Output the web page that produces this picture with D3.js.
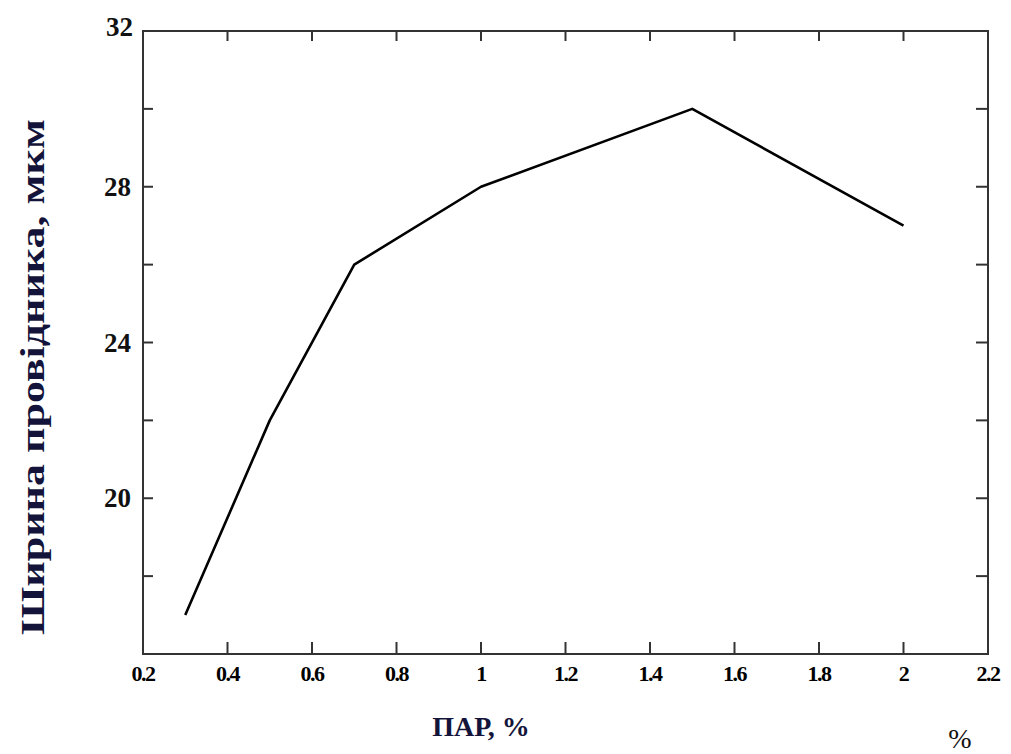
<!DOCTYPE html>
<html>
<head>
<meta charset="utf-8">
<script src="https://cdn.jsdelivr.net/npm/d3@7"></script>
<style>
  html, body { margin: 0; padding: 0; background: #fff; }
  svg { display: block; }
  text { font-family: "Liberation Serif", "Times New Roman", serif; }
</style>
</head>
<body>
<svg id="chart" width="1011" height="754"></svg>
<script>
// Data
const parValues = [0.3, 0.5, 0.7, 1.0, 1.5, 2.0];
const widthValues = [17, 22, 26, 28, 30, 27];
const xTickValues = [0.2, 0.4, 0.6, 0.8, 1.0, 1.2, 1.4, 1.6, 1.8, 2.0, 2.2];
const xTickLabels = ["0.2", "0.4", "0.6", "0.8", "1", "1.2", "1.4", "1.6", "1.8", "2", "2.2"];
const yTickValues = [16, 18, 20, 22, 24, 26, 28, 30, 32];
const yLabelValues = [20, 24, 28, 32];
const yAxisTitle = "Ширина провідника, мкм";
const xAxisTitle = "ПАР, %";
const cornerNote = "%";

const svg = d3.select("#chart");
const pLeft = 143, pRight = 988, pTop = 31, pBottom = 654;

const x = d3.scaleLinear().domain([0.2, 2.2]).range([pLeft, pRight]);
const y = d3.scaleLinear().domain([16, 32]).range([pBottom, pTop]);

const axisColor = "#333";

// frame
svg.append("rect")
  .attr("x", pLeft).attr("y", pTop)
  .attr("width", pRight - pLeft).attr("height", pBottom - pTop)
  .attr("fill", "none").attr("stroke", axisColor).attr("stroke-width", 2);

// inner ticks
const innerX = xTickValues.slice(1, -1);
const innerY = yTickValues.slice(1, -1);
const g = svg.append("g").attr("stroke", axisColor).attr("stroke-width", 2);
innerX.forEach(v => {
  g.append("line").attr("x1", x(v)).attr("x2", x(v)).attr("y1", pBottom).attr("y2", pBottom - 12);
  g.append("line").attr("x1", x(v)).attr("x2", x(v)).attr("y1", pTop).attr("y2", pTop + 10);
});
innerY.forEach(v => {
  g.append("line").attr("x1", pLeft).attr("x2", pLeft + 10).attr("y1", y(v)).attr("y2", y(v));
  g.append("line").attr("x1", pRight).attr("x2", pRight - 12).attr("y1", y(v)).attr("y2", y(v));
});

// x tick labels
svg.append("g").selectAll("text").data(xTickValues).join("text")
  .attr("x", d => x(d)).attr("y", 681)
  .attr("text-anchor", "middle")
  .attr("font-size", 22).attr("font-weight", "bold")
  .attr("letter-spacing", -1.5)
  .attr("fill", "#000")
  .text((d, i) => xTickLabels[i]);

// y tick labels
svg.append("g").selectAll("text").data(yLabelValues).join("text")
  .attr("x", d => d === 32 ? 133 : 131)
  .attr("y", d => (d === 32 ? y(d) - 4 : y(d)) + 9)
  .attr("text-anchor", "end")
  .attr("font-size", 27).attr("font-weight", "bold")
  .attr("fill", "#111")
  .text(d => d);

// data line
const line = d3.line().x((d, i) => x(parValues[i])).y(d => y(d));
svg.append("path")
  .datum(widthValues)
  .attr("d", line)
  .attr("fill", "none")
  .attr("stroke", "#000")
  .attr("stroke-width", 2.6)
  .attr("stroke-linejoin", "round");

// y axis title
svg.append("text")
  .attr("transform", "translate(44,377) rotate(-90)")
  .attr("text-anchor", "middle")
  .attr("font-size", 34).attr("font-weight", "bold")
  .attr("textLength", 516)
  .attr("lengthAdjust", "spacingAndGlyphs")
  .attr("fill", "#14143a")
  .text(yAxisTitle);

// x axis title
svg.append("text")
  .attr("x", 481).attr("y", 736)
  .attr("text-anchor", "middle")
  .attr("font-size", 28).attr("font-weight", "bold")
  .attr("fill", "#14143a")
  .text(xAxisTitle);

// corner note
svg.append("text")
  .attr("x", 960).attr("y", 748)
  .attr("text-anchor", "middle")
  .attr("font-size", 28)
  .attr("fill", "#111")
  .text(cornerNote);
</script>
</body>
</html>
